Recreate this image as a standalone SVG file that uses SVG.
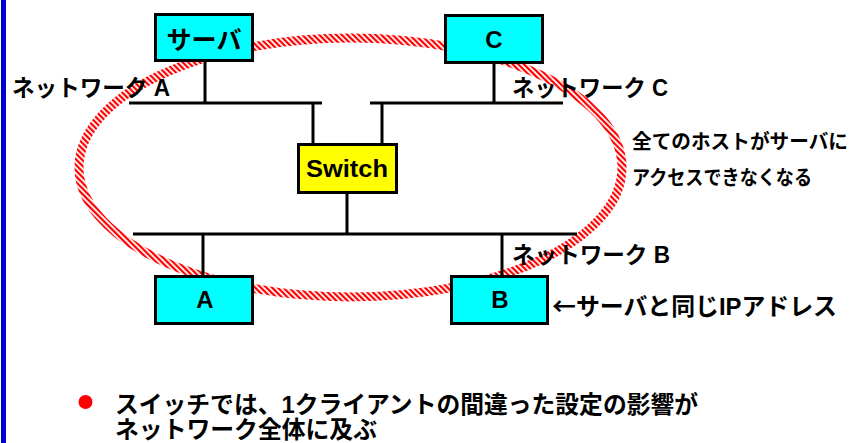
<svg xmlns="http://www.w3.org/2000/svg" width="856" height="443" viewBox="0 0 856 443">
<style>
.ln{stroke:#000;stroke-width:3;fill:none}
.box{stroke:#000;stroke-width:3}
.host{fill:#00FFFF}
.sw{fill:#FFFF00}
.t{font-family:"Liberation Sans","Noto Sans CJK JP",sans-serif;font-weight:bold;fill:#000}
.j{font-family:"Noto Sans CJK JP",sans-serif}
.c{text-anchor:middle}
</style>
<defs>
<pattern id="hatch" patternUnits="userSpaceOnUse" width="4" height="4" patternTransform="rotate(-45)">
<rect width="4" height="4" fill="#FFFFFF"/>
<rect width="2.2" height="4" fill="#FF0000"/>
</pattern>
</defs>
<rect x="1" y="0" width="5" height="443" fill="#0000CC"/>
<ellipse id="ellipse" cx="350.5" cy="167.5" rx="271.5" ry="129.5" fill="none" stroke="url(#hatch)" stroke-width="9"/>
<g id="connectors">
<line class="ln" x1="129" y1="103" x2="322" y2="103"/>
<line class="ln" x1="370" y1="103" x2="563" y2="103"/>
<line class="ln" x1="205" y1="62" x2="205" y2="103"/>
<line class="ln" x1="494" y1="62" x2="494" y2="103"/>
<line class="ln" x1="313" y1="103" x2="313" y2="145"/>
<line class="ln" x1="382" y1="103" x2="382" y2="145"/>
<line class="ln" x1="347" y1="192" x2="347" y2="234"/>
<line class="ln" x1="133" y1="234" x2="577" y2="234"/>
<line class="ln" x1="203" y1="234" x2="203" y2="277"/>
<line class="ln" x1="502" y1="234" x2="502" y2="277"/>
</g>
<g id="server">
<rect class="box host" x="155.5" y="14.5" width="97" height="46"/>
<text class="t c" x="204" y="49" font-size="25" textLength="75" lengthAdjust="spacingAndGlyphs">サーバ</text>
</g>
<g id="hostC">
<rect class="box host" x="445.5" y="15.5" width="97" height="47"/>
<text class="t c" x="494" y="48" font-size="24">C</text>
</g>
<g id="switch">
<rect class="box sw" x="298.5" y="144.5" width="98" height="48"/>
<text class="t c" x="347" y="177" font-size="24" textLength="82" lengthAdjust="spacingAndGlyphs">Switch</text>
</g>
<g id="hostA">
<rect class="box host" x="155.5" y="276.5" width="97" height="47"/>
<text class="t c" x="205" y="308" font-size="24">A</text>
</g>
<g id="hostB">
<rect class="box host" x="451.5" y="276.5" width="96" height="47"/>
<text class="t c" x="500" y="308" font-size="24">B</text>
</g>
<g id="labels">
<text class="t" x="12" y="96" font-size="23" textLength="158" lengthAdjust="spacingAndGlyphs">ネットワーク A</text>
<text class="t" x="512" y="96" font-size="23" textLength="156" lengthAdjust="spacingAndGlyphs">ネットワーク C</text>
<text class="t" x="512" y="263" font-size="23" textLength="158" lengthAdjust="spacingAndGlyphs">ネットワーク B</text>
<text class="t" x="552" y="315" font-size="24" textLength="285" lengthAdjust="spacingAndGlyphs"><tspan class="j">←</tspan>サーバと同じIPアドレス</text>
<text class="t" x="632" y="149" font-size="20" textLength="216" lengthAdjust="spacingAndGlyphs">全てのホストがサーバに</text>
<text class="t" x="632" y="185" font-size="20" textLength="180" lengthAdjust="spacingAndGlyphs">アクセスできなくなる</text>
</g>
<g id="bullet">
<circle cx="85.5" cy="402" r="7" fill="#FF0000"/>
<text class="t" x="115" y="413" font-size="24" textLength="583" lengthAdjust="spacingAndGlyphs">スイッチでは、1クライアントの間違った設定の影響が</text>
<text class="t" x="115" y="438" font-size="24" textLength="262" lengthAdjust="spacingAndGlyphs">ネットワーク全体に及ぶ</text>
</g>
</svg>
